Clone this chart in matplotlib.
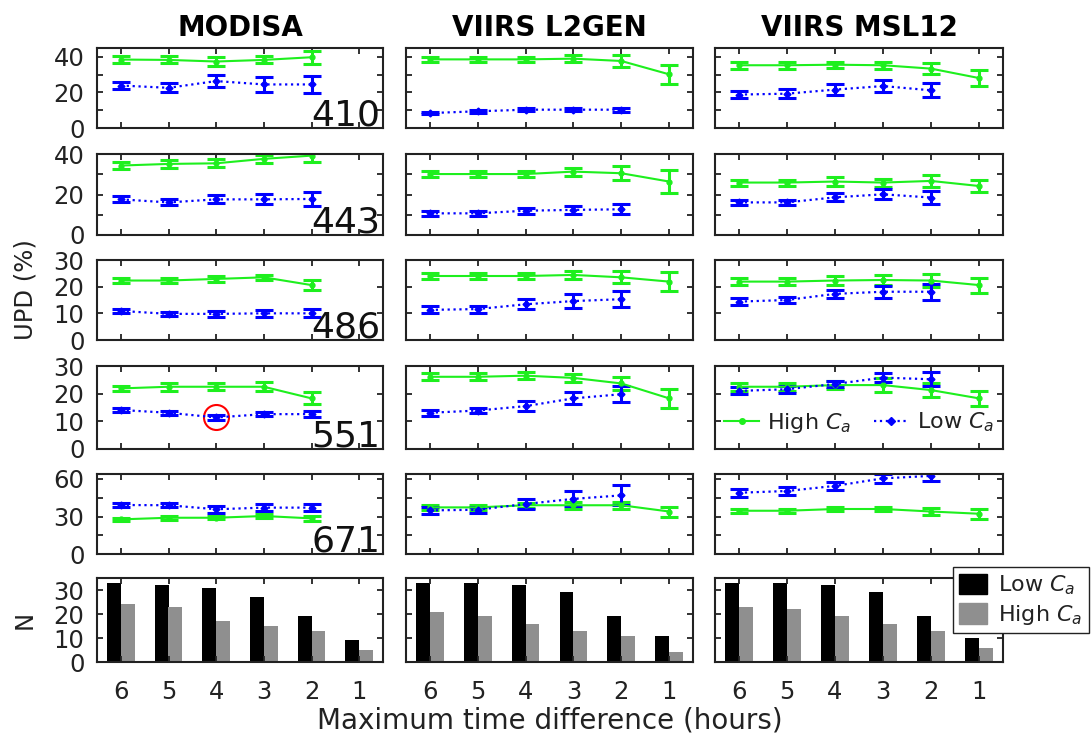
import numpy as np
import matplotlib
matplotlib.use('Agg')
import matplotlib.pyplot as plt
from matplotlib.lines import Line2D
from matplotlib.patches import Patch

plt.rcParams['font.family'] = ['DejaVu Sans']
plt.rcParams['mathtext.fontset'] = 'dejavusans'

hours = [6, 5, 4, 3, 2, 1]
sensors = ['MODISA', 'VIIRS L2GEN', 'VIIRS MSL12']
bands = ['410', '443', '486', '551', '671']

# ---- High Ca (green) : mean / error, one row per band ----
modisa_high = [[38.5, 38.3, 37.4, 38.3, 39.8],
               [34.3, 35.1, 35.4, 37.6, 39.2],
               [22.3, 22.3, 22.9, 23.5, 20.6],
               [21.9, 22.5, 22.5, 22.5, 18.3],
               [27.7, 29.0, 29.0, 30.4, 28.5]]
modisa_high_err = [[2.0, 2.0, 2.3, 2.0, 3.6],
                   [1.8, 2.0, 2.0, 2.0, 3.0],
                   [1.0, 1.0, 1.0, 1.0, 2.0],
                   [1.0, 1.5, 1.3, 1.6, 2.2],
                   [1.2, 1.5, 1.2, 1.3, 2.2]]
modisa_low = [[23.9, 22.6, 26.4, 24.5, 24.5],
              [17.6, 16.1, 17.6, 17.6, 17.8],
              [10.9, 9.8, 9.8, 10.0, 10.0],
              [14.1, 13.1, 11.4, 12.6, 12.6],
              [39.2, 39.0, 35.8, 37.1, 37.1]]
modisa_low_err = [[1.8, 2.5, 3.5, 4.0, 5.0],
                  [1.5, 1.5, 2.0, 2.5, 3.5],
                  [0.8, 0.8, 1.0, 1.3, 1.5],
                  [0.8, 0.8, 0.8, 0.7, 1.2],
                  [1.5, 1.5, 3.0, 3.0, 3.0]]

l2gen_high = [[38.6, 38.6, 38.6, 39.0, 37.7, 30.2],
              [30.1, 30.1, 30.1, 31.3, 30.5, 26.4],
              [24.0, 24.0, 24.0, 24.4, 23.5, 21.9],
              [26.1, 26.1, 26.5, 25.7, 23.7, 18.3],
              [37.3, 37.3, 39.0, 39.0, 39.0, 34.0]]
l2gen_high_err = [[1.5, 1.5, 1.5, 2.0, 3.5, 5.5],
                  [1.5, 1.5, 1.5, 2.0, 3.5, 5.5],
                  [1.3, 1.3, 1.3, 1.5, 2.3, 3.5],
                  [1.3, 1.3, 1.2, 1.5, 2.3, 3.5],
                  [2.0, 2.0, 2.0, 3.0, 3.0, 4.0]]
l2gen_low = [[8.4, 9.4, 10.3, 10.3, 10.3],
             [10.7, 10.7, 12.0, 12.4, 12.7],
             [11.3, 11.6, 13.4, 14.6, 15.3],
             [13.1, 13.9, 15.5, 18.3, 19.8],
             [34.9, 35.4, 40.0, 44.1, 46.9]]
l2gen_low_err = [[0.6, 1.0, 1.0, 1.0, 1.2],
                 [1.2, 1.2, 1.5, 1.8, 2.5],
                 [1.3, 1.3, 1.8, 2.5, 3.0],
                 [1.0, 1.0, 1.7, 2.2, 2.8],
                 [3.0, 2.5, 4.0, 6.0, 8.0]]

msl12_high = [[35.3, 35.3, 35.6, 35.3, 33.4, 28.1],
              [25.9, 25.9, 26.4, 25.9, 26.7, 24.2],
              [21.9, 21.9, 22.3, 22.5, 22.3, 20.6],
              [22.5, 22.5, 23.1, 23.1, 21.3, 18.3],
              [34.6, 34.6, 36.0, 36.0, 34.0, 32.2]]
msl12_high_err = [[2.0, 2.0, 1.8, 2.0, 3.3, 4.5],
                  [1.5, 1.5, 2.0, 2.0, 2.8, 3.0],
                  [1.3, 1.3, 1.8, 2.0, 2.5, 2.8],
                  [1.5, 1.5, 1.3, 2.5, 2.5, 2.7],
                  [1.5, 1.5, 1.3, 1.5, 3.0, 4.0]]
msl12_low = [[18.8, 19.3, 21.6, 23.6, 21.2],
             [16.1, 16.1, 18.6, 20.1, 18.5],
             [14.4, 15.0, 17.3, 18.1, 18.1],
             [21.0, 21.6, 23.5, 25.8, 25.2],
             [49.0, 50.4, 54.5, 60.5, 62.5]]
msl12_low_err = [[1.8, 2.5, 3.0, 3.5, 4.0],
                 [1.2, 1.2, 2.0, 2.5, 3.0],
                 [1.2, 1.3, 1.5, 2.2, 3.0],
                 [1.3, 1.3, 1.0, 1.5, 2.5],
                 [3.0, 3.0, 3.5, 3.5, 4.0]]

# ---- Number of matchups ----
modisa_n_low = [33, 32, 31, 27, 19, 9]
modisa_n_high = [24, 23, 17, 15, 13, 5]
l2gen_n_low = [33, 33, 32, 29, 19, 11]
l2gen_n_high = [21, 19, 16, 13, 11, 4]
msl12_n_low = [33, 33, 32, 29, 19, 10]
msl12_n_high = [23, 22, 19, 16, 13, 6]

row_ylims = [(0, 45), (0, 40), (0, 30), (0, 30), (0, 64)]
row_yticks = [[0, 10, 20, 30, 40], [0, 10, 20, 30, 40], [0, 10, 20, 30],
              [0, 10, 20, 30], [0, 15, 30, 45, 60]]
row_ylabels = [['0', '', '20', '', '40'], ['0', '', '20', '', '40'],
               ['0', '10', '20', '30'], ['0', '10', '20', '30'],
               ['0', '', '30', '', '60']]

data = {
    'MODISA': (modisa_high, modisa_high_err, modisa_low, modisa_low_err,
               modisa_n_low, modisa_n_high),
    'VIIRS L2GEN': (l2gen_high, l2gen_high_err, l2gen_low, l2gen_low_err,
                    l2gen_n_low, l2gen_n_high),
    'VIIRS MSL12': (msl12_high, msl12_high_err, msl12_low, msl12_low_err,
                    msl12_n_low, msl12_n_high),
}

W, H = 1091, 740
fig = plt.figure(figsize=(W / 100, H / 100), dpi=100)

col_x = [(97, 383), (406, 693), (715, 1003)]
row_y = [(48, 128), (154, 235), (260, 340), (366, 449), (474, 554), (578, 662)]

GREEN = '#1eef1e'
BLUE = '#0000ff'
TXT = '#222222'


def add_ax(c, r):
    x0, x1 = col_x[c]
    y0, y1 = row_y[r]
    ax = fig.add_axes([x0 / W, 1 - y1 / H, (x1 - x0) / W, (y1 - y0) / H])
    ax.set_xlim(6.5, 0.5)
    ax.set_xticks(hours)
    ax.tick_params(direction='in', length=4, width=1.3, top=True, right=True,
                   labelsize=17.5, colors=TXT, pad=9)
    for s in ax.spines.values():
        s.set_linewidth(1.5)
        s.set_color(TXT)
    return ax


line_axes = {}
for c, name in enumerate(sensors):
    hi, hi_e, lo, lo_e, n_lo, n_hi = data[name]
    for r in range(5):
        ax = add_ax(c, r)
        line_axes[(c, r)] = ax
        hx = hours[:len(hi[r])]
        lx = hours[:len(lo[r])]
        ax.errorbar(hx, hi[r], yerr=hi_e[r], color=GREEN, lw=1.5, ls='-',
                    marker='o', ms=3.5, elinewidth=2.2, capsize=6.5, capthick=2.2)
        ax.errorbar(lx, lo[r], yerr=lo_e[r], color=BLUE, lw=1.6, ls=':',
                    marker='D', ms=3.5, elinewidth=2.2, capsize=6.5, capthick=2.2)
        ax.set_ylim(*row_ylims[r])
        ax.set_yticks(row_yticks[r])
        if c == 0:
            ax.set_yticklabels(row_ylabels[r])
            ax.text(0.99, 0.03, bands[r], transform=ax.transAxes, ha='right',
                    va='baseline', fontsize=26, color='#111111')
        else:
            ax.set_yticklabels([])
        ax.set_xticklabels([])
        if r == 0:
            ax.set_title(name, fontsize=20, fontweight='bold', pad=9)

    # bar panel
    ax = add_ax(c, 5)
    xs = np.array(hours, dtype=float)
    ax.bar(xs + 0.145, n_lo, width=0.29, color='black', label='Low $C_a$')
    ax.bar(xs - 0.145, n_hi, width=0.29, color='#8f8f8f', label='High $C_a$')
    ax.set_ylim(0, 35)
    ax.set_yticks([0, 10, 20, 30])
    if c == 0:
        ax.set_yticklabels(['0', '10', '20', '30'])
    else:
        ax.set_yticklabels([])
    ax.set_xticklabels([str(h) for h in hours])
    ax.tick_params(axis='x', pad=13)

# red circle highlight on MODISA 551 at 4 h
line_axes[(0, 3)].plot([4], [modisa_low[3][2]], marker='o', ms=18,
                       mfc='none', mec='red', mew=1.5, ls='none')

# line legend in MSL12 551 panel
h_hi = Line2D([], [], color=GREEN, lw=1.5, marker='o', ms=4)
h_lo = Line2D([], [], color=BLUE, lw=1.6, ls=':', marker='D', ms=4)
line_axes[(2, 3)].legend([h_hi, h_lo], ['High $C_a$', 'Low $C_a$'],
                         loc='lower center', ncol=2, frameon=False, fontsize=16,
                         bbox_to_anchor=(0.5, -0.07), handlelength=1.6,
                         columnspacing=1.0, handletextpad=0.35, labelcolor=TXT)

# bar legend
fig.legend([Patch(color='black'), Patch(color='#8f8f8f')],
           ['Low $C_a$', 'High $C_a$'], loc='upper right',
           bbox_to_anchor=(1089 / W, 1 - 567 / H), fontsize=16, frameon=True,
           fancybox=False, edgecolor=TXT, framealpha=1, borderaxespad=0,
           handlelength=1.25, handleheight=1.05, handletextpad=0.5,
           labelspacing=0.25, borderpad=0.3, labelcolor=TXT)

fig.text(25 / W, 1 - 290 / H, 'UPD (%)', rotation=90, ha='center', va='center',
         fontsize=17.5, color=TXT)
fig.text(25 / W, 1 - 620 / H, 'N', rotation=90, ha='center', va='center',
         fontsize=17.5, color=TXT)
fig.text(550 / W, 1 - 720 / H, 'Maximum time difference (hours)', ha='center',
         va='center', fontsize=20, color=TXT)

fig.savefig('out.png', dpi=100)
